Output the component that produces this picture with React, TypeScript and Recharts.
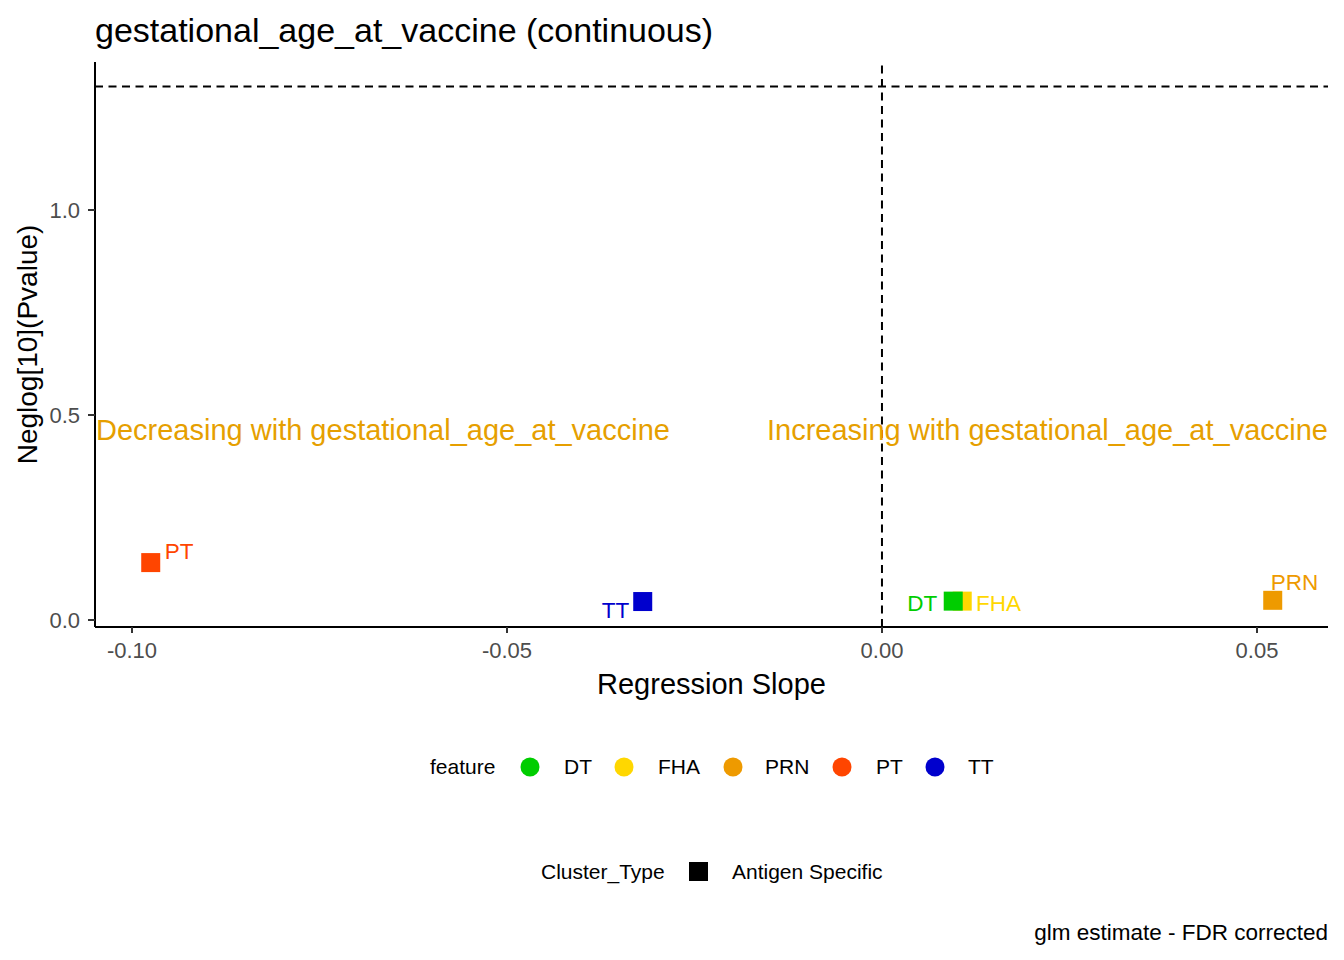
import React from "react";
import {
  ScatterChart,
  Scatter,
  XAxis,
  YAxis,
  ReferenceLine,
} from "recharts";

// data
const FEATURES = ["DT", "FHA", "PRN", "PT", "TT"];
const SLOPES = [0.0095, 0.0107, 0.0521, -0.0975, -0.0319];
const NEGLOG_P = [0.046, 0.046, 0.048, 0.14, 0.045];
const COLORS = ["#00CD00", "#FFD700", "#EE9A00", "#FF4500", "#0000CD"];

const X_TICKS = [-0.1, -0.05, 0, 0.05];
const Y_TICKS = [0, 0.5, 1.0];
const X_DOMAIN = [-0.10493, 0.05947];
const Y_DOMAIN = [-0.0171, 1.361];
const SIG_LINE = 1.30103; // -log10(0.05)
const ANNOT_Y = 0.46;

const FONT = "'Liberation Sans', Arial, sans-serif";
const ANNOT_COLOR = "#E69F00";

// repel-style label placement relative to each square
const LABEL_OFFSET: Record<string, { dx: number; dy: number; anchor: "start" | "end" }> = {
  DT: { dx: -16, dy: 9.5, anchor: "end" },
  FHA: { dx: 13.7, dy: 9.5, anchor: "start" },
  PRN: { dx: -2, dy: -10.5, anchor: "start" },
  PT: { dx: 14, dy: -3.5, anchor: "start" },
  TT: { dx: -13.5, dy: 16.5, anchor: "end" },
};

const points = FEATURES.map((f, i) => ({
  feature: f,
  x: SLOPES[i],
  y: NEGLOG_P[i],
  color: COLORS[i],
}));

function SquareWithLabel(props: any) {
  const { cx, cy, payload } = props;
  const s = 19;
  const off = LABEL_OFFSET[payload.feature];
  return (
    <g>
      <rect x={cx - s / 2} y={cy - s / 2} width={s} height={s} fill={payload.color} />
      <text
        x={cx + off.dx}
        y={cy + off.dy}
        textAnchor={off.anchor}
        fill={payload.color}
        fontSize={22.5}
        fontFamily={FONT}
      >
        {payload.feature}
      </text>
    </g>
  );
}

const LEGEND_X = [
  { dot: 530, text: 564 },
  { dot: 624, text: 658 },
  { dot: 733, text: 765 },
  { dot: 842, text: 876 },
  { dot: 935, text: 968 },
];

function Overlay() {
  return (
    <svg
      width={1344}
      height={960}
      style={{ position: "absolute", left: 0, top: 0, pointerEvents: "none" }}
    >
      <g fontFamily={FONT} fill="#000">
        <text x={95} y={41.5} fontSize={34}>
          gestational_age_at_vaccine (continuous)
        </text>
        <text x={430} y={773.5} fontSize={21}>
          feature
        </text>
        {FEATURES.map((f, i) => (
          <g key={f}>
            <circle cx={LEGEND_X[i].dot} cy={767} r={9.5} fill={COLORS[i]} />
            <text x={LEGEND_X[i].text} y={773.5} fontSize={21}>
              {f}
            </text>
          </g>
        ))}
        <text x={541} y={878.5} fontSize={21}>
          Cluster_Type
        </text>
        <rect x={689} y={862} width={19} height={19} fill="#000" />
        <text x={732} y={878.5} fontSize={21}>
          Antigen Specific
        </text>
        <text x={1328} y={940} fontSize={22.5} textAnchor="end">
          glm estimate - FDR corrected
        </text>
      </g>
    </svg>
  );
}

export default function App() {
  const tickStyle = { fill: "#4D4D4D", fontSize: 22, fontFamily: FONT };
  const order = [...points].reverse(); // DT drawn last, over FHA
  return (
    <div style={{ position: "absolute", left: 0, top: 0, width: 1344, height: 960, background: "#fff" }}>
      <ScatterChart width={1344} height={960} margin={{ top: 62, right: 16, bottom: 0, left: 0 }}>
        <XAxis
          type="number"
          dataKey="x"
          domain={X_DOMAIN}
          ticks={X_TICKS}
          allowDataOverflow
          height={333}
          tick={tickStyle}
          tickFormatter={(v: number) => v.toFixed(2)}
          tickSize={6}
          tickMargin={9}
          tickLine={{ stroke: "#333333", strokeWidth: 2 }}
          axisLine={{ stroke: "#000", strokeWidth: 2 }}
          label={(p: any) => {
            const vb = p.viewBox;
            return (
              <text
                x={vb.x + vb.width / 2}
                y={vb.y + 67}
                textAnchor="middle"
                fontSize={29}
                fontFamily={FONT}
                fill="#000"
              >
                Regression Slope
              </text>
            );
          }}
        />
        <YAxis
          type="number"
          dataKey="y"
          domain={Y_DOMAIN}
          ticks={Y_TICKS}
          allowDataOverflow
          width={95}
          tick={tickStyle}
          tickFormatter={(v: number) => v.toFixed(1)}
          tickSize={7}
          tickMargin={8}
          tickLine={{ stroke: "#333333", strokeWidth: 2 }}
          axisLine={{ stroke: "#000", strokeWidth: 2 }}
          label={(p: any) => {
            const vb = p.viewBox;
            const cy = vb.y + vb.height / 2;
            return (
              <text
                x={37}
                y={cy}
                transform={`rotate(-90, 37, ${cy})`}
                textAnchor="middle"
                fontSize={28}
                fontFamily={FONT}
                fill="#000"
              >
                Neglog[10](Pvalue)
              </text>
            );
          }}
        />
        <ReferenceLine x={0} stroke="#000" strokeWidth={2} strokeDasharray="8 5.5" />
        <ReferenceLine y={SIG_LINE} stroke="#000" strokeWidth={2} strokeDasharray="8 5.5" />
        <ReferenceLine
          y={ANNOT_Y}
          stroke="none"
          label={(p: any) => {
            const vb = p.viewBox;
            return (
              <g fontSize={29} fontFamily={FONT} fill={ANNOT_COLOR}>
                <text x={vb.x + 1} y={vb.y} dy="0.3em" textAnchor="start">
                  Decreasing with gestational_age_at_vaccine
                </text>
                <text x={vb.x + vb.width} y={vb.y} dy="0.3em" textAnchor="end">
                  Increasing with gestational_age_at_vaccine
                </text>
              </g>
            );
          }}
        />
        {order.map((pt) => (
          <Scatter
            key={pt.feature}
            data={[pt]}
            fill={pt.color}
            shape={SquareWithLabel}
            isAnimationActive={false}
          />
        ))}
      </ScatterChart>
      <Overlay />
    </div>
  );
}
